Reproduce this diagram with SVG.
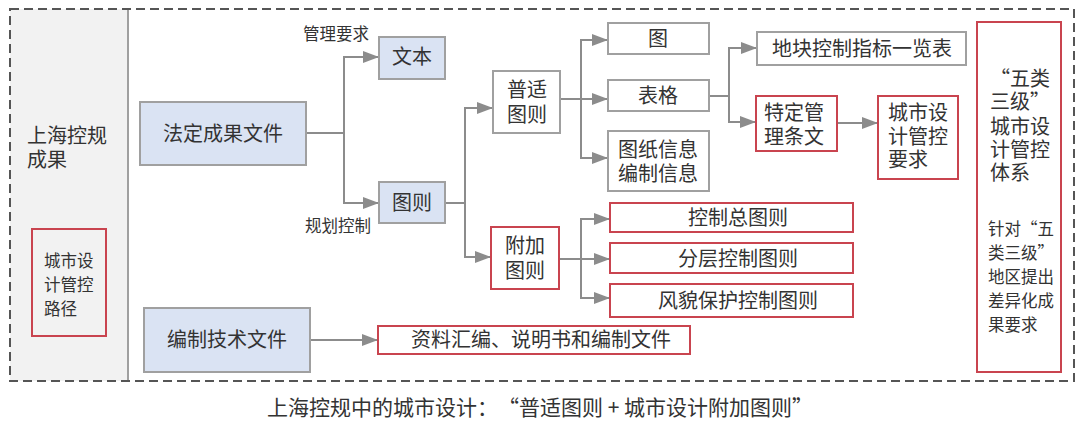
<svg xmlns="http://www.w3.org/2000/svg" width="1080" height="423" viewBox="0 0 1080 423">
<style>
text{font-family:"Noto Sans CJK SC","Noto Sans",sans-serif;fill:#333;text-spacing-trim:space-all;}
.t20{font-size:20px;}
.t17{font-size:16.5px;}
.cap{font-size:21px;}
.c{text-anchor:middle;}
.blue{fill:#dae3f3;stroke:#a0a0a0;stroke-width:2;}
.grey{fill:#fff;stroke:#a0a0a0;stroke-width:2;}
.red{fill:#fff;stroke:#c9444f;stroke-width:2;}
.redg{fill:#f2f2f2;stroke:#c9444f;stroke-width:2;}
.conn{fill:none;stroke:#8c8c8c;stroke-width:2;}
</style>
<defs>
<marker id="arr" markerUnits="userSpaceOnUse" markerWidth="16" markerHeight="12" refX="16" refY="6" orient="auto">
<path d="M0,0 L16,6 L0,12 Z" fill="#8c8c8c"/>
</marker>
</defs>
<rect x="0" y="0" width="1080" height="423" fill="#fff"/>
<g id="frame">
<rect x="10" y="9" width="118" height="372" fill="#f2f2f2"/>
<line x1="128" y1="9" x2="128" y2="381" stroke="#a0a0a0" stroke-width="2"/>
<rect x="10" y="9" width="1064" height="372" fill="none" stroke="#555" stroke-width="2" stroke-dasharray="9 5"/>
</g>
<g id="n-root">
<text class="t20" x="27" y="143">上海控规</text>
<text class="t20" x="27" y="167">成果</text>
</g>
<g id="n-path">
<rect class="redg" x="32" y="229" width="74" height="107"/>
<text class="t17" x="44" y="267">城市设</text>
<text class="t17" x="44" y="291">计管控</text>
<text class="t17" x="44" y="315">路径</text>
</g>
<g id="connectors">
<polyline class="conn" points="306,133 344,133"/>
<polyline class="conn" points="344,57 344,203"/>
<polyline class="conn" points="445,203 465,203"/>
<polyline class="conn" points="465,108 465,257"/>
<polyline class="conn" points="581,40 581,158"/>
<polyline class="conn" points="709,96 729,96"/>
<polyline class="conn" points="729,48 729,122"/>
<polyline class="conn" points="581,219 581,298"/>
<line class="conn" x1="343" y1="57" x2="379" y2="57" marker-end="url(#arr)"/>
<line class="conn" x1="343" y1="203" x2="379" y2="203" marker-end="url(#arr)"/>
<line class="conn" x1="464" y1="108" x2="493" y2="108" marker-end="url(#arr)"/>
<line class="conn" x1="464" y1="257" x2="491" y2="257" marker-end="url(#arr)"/>
<line class="conn" x1="580" y1="40" x2="608" y2="40" marker-end="url(#arr)"/>
<line class="conn" x1="560" y1="99" x2="608" y2="99" marker-end="url(#arr)"/>
<line class="conn" x1="580" y1="158" x2="608" y2="158" marker-end="url(#arr)"/>
<line class="conn" x1="728" y1="48" x2="757" y2="48" marker-end="url(#arr)"/>
<line class="conn" x1="728" y1="122" x2="756" y2="122" marker-end="url(#arr)"/>
<line class="conn" x1="837" y1="123" x2="878" y2="123" marker-end="url(#arr)"/>
<line class="conn" x1="580" y1="219" x2="610" y2="219" marker-end="url(#arr)"/>
<line class="conn" x1="559" y1="259" x2="610" y2="259" marker-end="url(#arr)"/>
<line class="conn" x1="580" y1="298" x2="610" y2="298" marker-end="url(#arr)"/>
<line class="conn" x1="310" y1="340" x2="378" y2="340" marker-end="url(#arr)"/>
<text class="t17" x="303" y="40">管理要求</text>
<text class="t17" x="305" y="232">规划控制</text>
</g>
<g id="n-fading">
<rect class="blue" x="140" y="102" width="166" height="63"/>
<text class="t20 c" x="223" y="141">法定成果文件</text>
</g>
<g id="n-bianzhi">
<rect class="blue" x="144" y="308" width="166" height="64"/>
<text class="t20 c" x="227" y="347">编制技术文件</text>
</g>
<g id="n-wenben">
<rect class="blue" x="379" y="37" width="66" height="42"/>
<text class="t20 c" x="412" y="64">文本</text>
</g>
<g id="n-tuze">
<rect class="blue" x="379" y="182" width="66" height="41"/>
<text class="t20 c" x="412" y="210">图则</text>
</g>
<g id="n-pushi">
<rect class="grey" x="493" y="71" width="67" height="62"/>
<text class="t20 c" x="527" y="97">普适</text>
<text class="t20 c" x="527" y="122">图则</text>
</g>
<g id="n-fujia">
<rect class="red" x="491" y="227" width="68" height="62"/>
<text class="t20 c" x="525" y="253">附加</text>
<text class="t20 c" x="525" y="278">图则</text>
</g>
<g id="n-tu">
<rect class="grey" x="608" y="23" width="101" height="31"/>
<text class="t20 c" x="658" y="46">图</text>
</g>
<g id="n-biaoge">
<rect class="grey" x="608" y="80" width="101" height="31"/>
<text class="t20 c" x="658" y="103">表格</text>
</g>
<g id="n-tuzhi">
<rect class="grey" x="608" y="131" width="101" height="60"/>
<text class="t20 c" x="658" y="157">图纸信息</text>
<text class="t20 c" x="658" y="181">编制信息</text>
</g>
<g id="n-dikuai">
<rect class="grey" x="757" y="32" width="209" height="33"/>
<text class="t20 c" x="862" y="56">地块控制指标一览表</text>
</g>
<g id="n-teding">
<rect class="red" x="756" y="96" width="81" height="55"/>
<text class="t20" x="764" y="120">特定管</text>
<text class="t20" x="764" y="144">理条文</text>
</g>
<g id="n-yaoqiu">
<rect class="red" x="878" y="96" width="80" height="83"/>
<text class="t20" x="888" y="120">城市设</text>
<text class="t20" x="888" y="144">计管控</text>
<text class="t20" x="888" y="167">要求</text>
</g>
<g id="n-zongtu">
<rect class="red" x="610" y="203" width="243" height="29"/>
<text class="t20 c" x="738" y="225">控制总图则</text>
</g>
<g id="n-fenceng">
<rect class="red" x="610" y="243" width="243" height="30"/>
<text class="t20 c" x="738" y="266">分层控制图则</text>
</g>
<g id="n-fengmao">
<rect class="red" x="610" y="284" width="243" height="33"/>
<text class="t20 c" x="738" y="308">风貌保护控制图则</text>
</g>
<g id="n-ziliao">
<rect class="red" x="378" y="326" width="312" height="28"/>
<text class="t20 c" x="541" y="347">资料汇编、说明书和编制文件</text>
</g>
<g id="n-wulei">
<rect class="red" x="977" y="22" width="84" height="350"/>
<text class="t20" x="990" y="86">“五类</text>
<text class="t20" x="990" y="109">三级”</text>
<text class="t20" x="990" y="134">城市设</text>
<text class="t20" x="990" y="157">计管控</text>
<text class="t20" x="990" y="180">体系</text>
<text class="t17" x="988" y="235">针对“五</text>
<text class="t17" x="988" y="259">类三级”</text>
<text class="t17" x="988" y="283">地区提出</text>
<text class="t17" x="988" y="307">差异化成</text>
<text class="t17" x="988" y="331">果要求</text>
</g>
<g id="caption">
<text class="cap c" x="540" y="415">上海控规中的城市设计：“普适图则 + 城市设计附加图则”</text>
</g>
</svg>
